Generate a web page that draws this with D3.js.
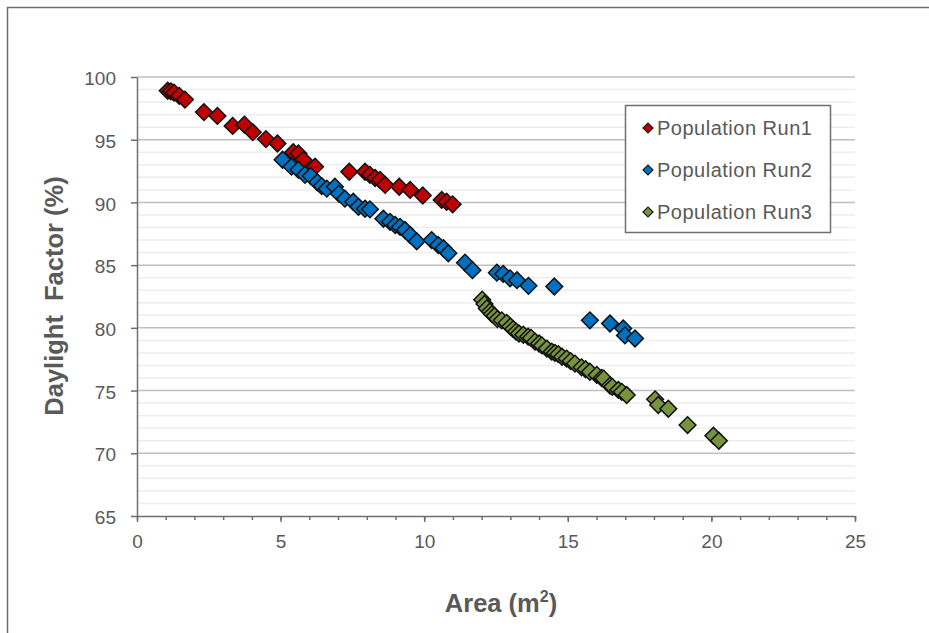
<!DOCTYPE html>
<html>
<head>
<meta charset="utf-8">
<script src="https://cdn.jsdelivr.net/npm/d3@7"></script>
<style>
  body { margin: 0; background: #fff; }
  text { font-family: "Liberation Sans", Arial, sans-serif; fill: #595959; }
</style>
</head>
<body>
<script>
// series names and colours
var seriesNames = ["Population Run1", "Population Run2", "Population Run3"];
var seriesColors = ["#c00000", "#0070c0", "#77933c"];

// [area m2, daylight factor %]
var run1 = [
    [1.07, 98.9], [1.18, 98.85], [1.29, 98.75], [1.47, 98.5], [1.67, 98.2],
    [2.33, 97.2], [2.8, 96.9], [3.33, 96.1], [3.74, 96.2], [4.03, 95.6],
    [4.49, 95.05], [4.89, 94.7], [5.44, 94.0], [5.62, 93.9], [5.79, 93.4],
    [6.2, 92.85], [7.39, 92.45], [7.94, 92.45], [8.11, 92.2], [8.29, 91.95],
    [8.46, 91.8], [8.64, 91.4], [9.13, 91.25], [9.51, 91.0], [9.95, 90.55],
    [10.61, 90.2], [10.78, 90.05], [10.99, 89.85]
];
var run2 = [
    [5.07, 93.4], [5.38, 92.85], [5.62, 92.6], [5.85, 92.2], [6.05, 92.1],
    [6.28, 91.6], [6.43, 91.3], [6.61, 91.1], [6.89, 91.25], [7.03, 90.7],
    [7.24, 90.3], [7.53, 90.05], [7.71, 89.65], [7.94, 89.5], [8.11, 89.45],
    [8.58, 88.7], [8.81, 88.45], [8.99, 88.2], [9.16, 88.05], [9.33, 87.8],
    [9.51, 87.4], [9.74, 86.9], [10.26, 87.0], [10.49, 86.6], [10.67, 86.35],
    [10.84, 85.95], [11.42, 85.2], [11.68, 84.6], [12.53, 84.4], [12.75, 84.3],
    [12.99, 83.95], [13.23, 83.8], [13.63, 83.35], [14.53, 83.3], [15.77, 80.6],
    [16.47, 80.35], [16.93, 79.95], [16.99, 79.4], [17.34, 79.15]
];
var run3 = [
    [12.02, 82.25], [12.1, 81.9], [12.18, 81.55], [12.29, 81.3], [12.36, 81.1],
    [12.45, 80.95], [12.55, 80.7], [12.7, 80.6], [12.87, 80.4], [13.0, 80.1],
    [13.1, 79.9], [13.2, 79.7], [13.3, 79.55], [13.45, 79.45], [13.62, 79.3],
    [13.72, 79.2], [13.86, 78.9], [14.0, 78.75], [14.1, 78.6], [14.27, 78.35],
    [14.44, 78.1], [14.55, 78.0], [14.67, 77.9], [14.8, 77.7], [14.96, 77.55],
    [15.1, 77.35], [15.25, 77.15], [15.48, 76.85], [15.62, 76.7], [15.77, 76.5],
    [16.01, 76.25], [16.18, 76.0], [16.25, 75.95], [16.47, 75.4], [16.55, 75.3],
    [16.76, 75.05], [16.88, 74.9], [17.05, 74.65], [18.04, 74.3], [18.15, 73.85],
    [18.5, 73.55], [19.17, 72.25], [20.07, 71.4], [20.26, 71.0]
];

var xTicks = [0, 5, 10, 15, 20, 25];
var yTicks = [65, 70, 75, 80, 85, 90, 95, 100];

var svg = d3.select('body')
    .append('svg')
    .attr('width', 929)
    .attr('height', 633);

// chart frame
svg.append('rect')
    .attr('x', 7.5)
    .attr('y', 7.5)
    .attr('width', 960)
    .attr('height', 660)
    .style('fill', 'white')
    .style('stroke', '#6f6f6f')
    .style('stroke-width', 1.5);

var x = d3.scaleLinear().domain([0, 25]).range([137, 855]);
var y = d3.scaleLinear().domain([65, 100]).range([516, 77]);

// minor gridlines every 1, major every 5
var minor = d3.range(66, 100).filter(function(v) { return v % 5 != 0; });
svg.selectAll('.minor')
    .data(minor)
    .enter().append('line')
    .attr('x1', x(0)).attr('x2', x(25))
    .attr('y1', function(d) { return y(d); })
    .attr('y2', function(d) { return y(d); })
    .style('stroke', '#eeeeee')
    .style('stroke-width', 1.5);

svg.selectAll('.major')
    .data(yTicks.slice(1))
    .enter().append('line')
    .attr('x1', x(0)).attr('x2', x(25))
    .attr('y1', function(d) { return y(d); })
    .attr('y2', function(d) { return y(d); })
    .style('stroke', '#bfbfbf')
    .style('stroke-width', 1.5);

// axes
var yAxis = svg.append('g')
    .attr('transform', 'translate(' + x(0) + ',0)')
    .call(d3.axisLeft(y).tickValues(yTicks).tickSizeInner(6).tickSizeOuter(0).tickPadding(15));

svg.append('g')
    .attr('transform', 'translate(0,' + y(65) + ')')
    .call(d3.axisBottom(x).tickValues(d3.range(0, 26)).tickSize(4).tickFormat(''))
    .select('.domain').remove();

var xAxis = svg.append('g')
    .attr('transform', 'translate(0,' + y(65) + ')')
    .call(d3.axisBottom(x).tickValues(xTicks).tickSizeInner(6).tickSizeOuter(0).tickPadding(13));

svg.selectAll('.domain, .tick line')
    .style('stroke', '#6f6f6f')
    .style('stroke-width', 1.5);

svg.selectAll('.tick text')
    .style('font-size', '19px')
    .style('font-family', '"Liberation Sans", Arial, sans-serif')
    .style('fill', '#595959');

yAxis.selectAll('.tick text').attr('dy', '0.4em');

// points
var diamond = d3.symbol().type(d3.symbolSquare).size(140);
var runs = [run1, run2, run3];

runs.forEach(function(run, i) {
    svg.append('g')
        .selectAll('path')
        .data(run)
        .enter().append('path')
        .attr('d', diamond)
        .attr('transform', function(d) {
            return 'translate(' + x(d[0]) + ',' + y(d[1]) + ') rotate(45)';
        })
        .style('fill', seriesColors[i])
        .style('stroke', '#111')
        .style('stroke-width', 1.5);
});

// axis titles
svg.append('text')
    .attr('transform', 'translate(63,296) rotate(-90)')
    .attr('text-anchor', 'middle')
    .attr('xml:space', 'preserve')
    .style('white-space', 'pre')
    .style('font-size', '25.5px')
    .style('font-weight', 'bold')
    .text('Daylight  Factor (%)');

var xt = svg.append('text')
    .attr('x', 501)
    .attr('y', 612)
    .attr('text-anchor', 'middle')
    .style('font-size', '25.5px')
    .style('font-weight', 'bold');
xt.append('tspan').text('Area (m');
xt.append('tspan').attr('dy', -10).style('font-size', '16px').text('2');
xt.append('tspan').attr('dy', 10).text(')');

// legend
var legend = svg.append('g');
legend.append('rect')
    .attr('x', 625.5)
    .attr('y', 105.5)
    .attr('width', 205)
    .attr('height', 127)
    .style('fill', 'white')
    .style('stroke', '#6f6f6f')
    .style('stroke-width', 1.5);

var legendSymbol = d3.symbol().type(d3.symbolSquare).size(50);
seriesNames.forEach(function(name, i) {
    var ly = 128 + i * 42;
    legend.append('path')
        .attr('d', legendSymbol)
        .attr('transform', 'translate(648,' + ly + ') rotate(45)')
        .style('fill', seriesColors[i])
        .style('stroke', '#111')
        .style('stroke-width', 1.2);
    legend.append('text')
        .attr('x', 657)
        .attr('y', ly + 7)
        .style('font-size', '20px')
        .style('letter-spacing', '0.5px')
        .text(name);
});
</script>
</body>
</html>
